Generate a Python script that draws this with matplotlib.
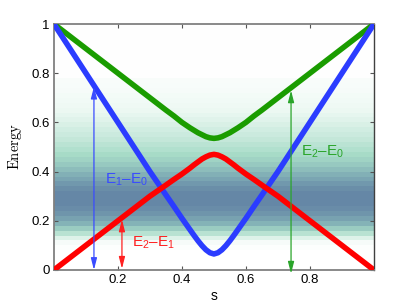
import numpy as np
import matplotlib
matplotlib.use("Agg")
import matplotlib.pyplot as plt
from matplotlib.colors import LinearSegmentedColormap

# ---- data ----
s_vals = [0.0, 0.05, 0.10, 0.15, 0.20, 0.25, 0.30, 0.35, 0.375, 0.40, 0.425, 0.4375, 0.45,
          0.4625, 0.475, 0.4875, 0.50, 0.5125, 0.525, 0.5375, 0.55, 0.5625, 0.575, 0.60,
          0.625, 0.65, 0.70, 0.75, 0.80, 0.85, 0.90, 0.95, 1.0]
e10 = [1.0, 0.90, 0.80, 0.70, 0.60, 0.50, 0.40, 0.305, 0.258, 0.21, 0.164, 0.141, 0.119,
       0.099, 0.082, 0.070, 0.065, 0.070, 0.082, 0.099, 0.119, 0.141, 0.164, 0.21,
       0.258, 0.305, 0.40, 0.50, 0.60, 0.70, 0.80, 0.90, 1.0]
e21 = [0.0, 0.05, 0.10, 0.15, 0.20, 0.25, 0.30, 0.345, 0.368, 0.39, 0.414, 0.427, 0.439,
       0.451, 0.460, 0.467, 0.470, 0.467, 0.460, 0.451, 0.439, 0.427, 0.414, 0.39,
       0.368, 0.345, 0.30, 0.25, 0.20, 0.15, 0.10, 0.05, 0.0]
e20 = [1.0, 0.95, 0.90, 0.85, 0.80, 0.75, 0.70, 0.650, 0.626, 0.60, 0.578, 0.568, 0.558,
       0.550, 0.542, 0.537, 0.535, 0.537, 0.542, 0.550, 0.558, 0.568, 0.578, 0.60,
       0.626, 0.650, 0.70, 0.75, 0.80, 0.85, 0.90, 0.95, 1.0]

# background density bands (bottom to top, 0.02 wide)
band_density = [0.0, 0.0, 0.0, 0.0, 0.02, 0.08, 0.22, 0.38, 0.55, 0.70,
                0.82, 0.90, 0.96, 1.0, 1.0, 1.0, 0.95, 0.88, 0.80, 0.72,
                0.64, 0.57, 0.50, 0.45, 0.41, 0.37, 0.33, 0.30, 0.27, 0.24,
                0.21, 0.18, 0.16, 0.14, 0.12, 0.10, 0.08, 0.07, 0.055, 0.01,
                0.01, 0.01, 0.01, 0.01, 0.01, 0.01, 0.01, 0.01, 0.01, 0.01]

xticks = [0.2, 0.4, 0.6, 0.8]
yticks = [0, 0.2, 0.4, 0.6, 0.8, 1]
yticklabels = ["0", "0.2", "0.4", "0.6", "0.8", "1"]

# arrows: (s position, bottom, top)
arrow_e10 = (0.125, 0.0, 0.745)
arrow_e21 = (0.2125, 0.005, 0.205)
arrow_e20 = (0.741, -0.015, 0.73)

plt.rcParams['font.family'] = ['Liberation Sans', 'DejaVu Sans']
plt.rcParams['mathtext.fontset'] = 'custom'
plt.rcParams['mathtext.rm'] = 'Liberation Sans'
plt.rcParams['mathtext.it'] = 'Liberation Sans:italic'

fig = plt.figure(figsize=(4.15, 3.04), dpi=100)
ax = fig.add_axes([0.130, 0.112, 0.771, 0.809])

cmap = LinearSegmentedColormap.from_list(
    "bg", [(0.0, "#ffffff"), (0.15, "#eef9f4"), (0.45, "#a8dcc8"),
           (0.7, "#85b4b8"), (1.0, "#6587a6")])
img = np.array(band_density)[:, None]
ax.imshow(img, cmap=cmap, vmin=0, vmax=1, origin='lower', aspect='auto',
          extent=[0, 1, 0, 1], interpolation='nearest', zorder=0)

lw = 4.0
kw = dict(lw=lw, solid_capstyle='butt', solid_joinstyle='round')
ax.plot(s_vals, e20, color="#1a9c00", zorder=3, **kw)
ax.plot(s_vals, e10, color="#2b3cff", zorder=4, **kw)
ax.plot(s_vals, e21, color="#ff0000", zorder=5, **kw)

def darrow(pos, color):
    x, y0, y1 = pos
    ax.annotate("", xy=(x, y1), xytext=(x, y0),
                arrowprops=dict(arrowstyle="<|-|>,head_length=0.7,head_width=0.18",
                                color=color, lw=0.9, shrinkA=0, shrinkB=0),
                zorder=6)

darrow(arrow_e10, "#3a4cff")
darrow(arrow_e21, "#ff2020")
darrow(arrow_e20, "#2aa52a")

ax.text(0.158, 0.352, r"E$_1$–E$_0$", color="#3a4cff", fontsize=11, zorder=7)
ax.text(0.245, 0.095, r"E$_2$–E$_1$", color="#ff2020", fontsize=11, zorder=7)
ax.text(0.773, 0.465, r"E$_2$–E$_0$", color="#2aa52a", fontsize=11, zorder=7)

ax.set_xlim(0, 1)
ax.set_ylim(0, 1)
ax.set_xticks(xticks)
ax.set_xticklabels([f"{t:g}" for t in xticks])
ax.set_yticks(yticks)
ax.set_yticklabels(yticklabels)
ax.tick_params(direction='in', length=3, width=0.8, top=True, right=True,
               labelsize=9.5, colors='#555555', labelcolor='black', pad=3)
for side in ['left', 'bottom', 'top']:
    ax.spines[side].set_color('#808080')
    ax.spines[side].set_linewidth(1.3)
ax.spines['right'].set_color('#404040')
ax.spines['right'].set_linewidth(1.0)

ax.set_xlabel("s", fontsize=10, labelpad=2)
ax.set_ylabel(r"$\mathrm{Energy}$", fontsize=10.5, math_fontfamily='cm', labelpad=5)

fig.savefig("out.png", dpi=100)
